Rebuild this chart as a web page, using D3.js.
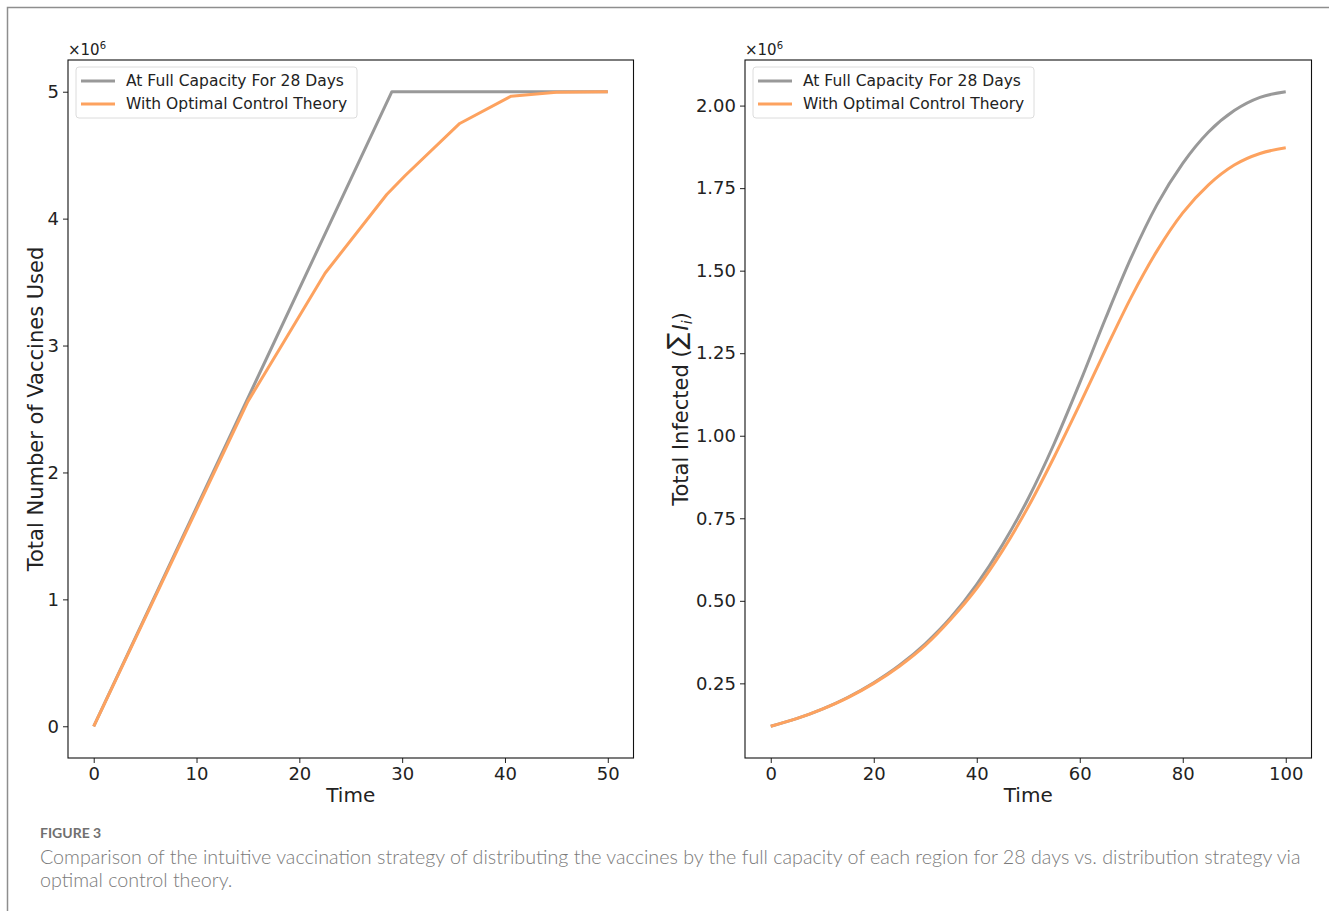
<!DOCTYPE html>
<html>
<head>
<meta charset="utf-8">
<script src="https://cdn.jsdelivr.net/npm/d3@7"></script>
<style>
  body { margin: 0; background: #fff; }
  svg { display: block; }
  .tick text { font-family: "DejaVu Sans", sans-serif; }
</style>
</head>
<body>
<svg id="fig" width="1329" height="911"></svg>
<script>
// ---- data ----
const seriesNames = ["At Full Capacity For 28 Days", "With Optimal Control Theory"];
const seriesColors = ["#999999", "#fda25f"];

// left panel: vaccines used (x10^6)
const vaccFullTime = [0, 29, 50];
const vaccFull = [0, 5, 5];
const vaccOptTime = [0, 15, 18.5, 22.5, 28.5, 30.3, 35.6, 40.6, 45, 50];
const vaccOpt = [0, 2.56, 3.03, 3.57, 4.19, 4.34, 4.75, 4.965, 4.995, 5.0];

// right panel: total infected (x10^6)
const infTime = [0, 5, 10, 15, 20, 25, 30, 35, 40, 45, 50, 55, 60, 65, 70, 75, 80, 85, 90, 95, 100];
const infFull = [0.12, 0.143, 0.172, 0.208, 0.252, 0.305, 0.37, 0.45, 0.55, 0.67, 0.81, 0.975, 1.16, 1.355, 1.54, 1.70, 1.825, 1.92, 1.985, 2.025, 2.042];
const infOpt = [0.12, 0.143, 0.172, 0.207, 0.25, 0.302, 0.365, 0.445, 0.538, 0.652, 0.785, 0.935, 1.095, 1.26, 1.42, 1.56, 1.675, 1.76, 1.82, 1.855, 1.872];

const leftXTicks = [0, 10, 20, 30, 40, 50];
const leftYTicks = [0, 1, 2, 3, 4, 5];
const rightXTicks = [0, 20, 40, 60, 80, 100];
const rightYTicks = [0.25, 0.5, 0.75, 1.0, 1.25, 1.5, 1.75, 2.0];

const captionHead = "FIGURE 3";
const captionLines = [
  "Comparison of the intuitive vaccination strategy of distributing the vaccines by the full capacity of each region for 28 days vs. distribution strategy via",
  "optimal control theory."
];

const svg = d3.select("#fig");
const FONT = "'DejaVu Sans', sans-serif";

// outer frame
svg.append("path")
    .attr("d", "M7.5,911V7.5H1329")
    .attr("fill", "none")
    .attr("stroke", "#8e8e8e")
    .attr("stroke-width", 1.5);

// matplotlib-like padded extent
function padded(vals) {
    const [lo, hi] = d3.extent(vals);
    const m = (hi - lo) * 0.05;
    return [lo - m, hi + m];
}

function panel(opts) {
    const { box, xDomain, yDomain, xTicks, yTicks, yFormat, series, yLabel } = opts;
    const x = d3.scaleLinear().domain(xDomain).range([box.x0, box.x1]);
    const y = d3.scaleLinear().domain(yDomain).range([box.y1, box.y0]);
    const g = svg.append("g");

    const xAxis = g.append("g")
        .attr("transform", `translate(0,${box.y1})`)
        .call(d3.axisBottom(x).tickValues(xTicks).tickSize(5).tickPadding(4).tickFormat(d3.format("d")));
    const yAxis = g.append("g")
        .attr("transform", `translate(${box.x0},0)`)
        .call(d3.axisLeft(y).tickValues(yTicks).tickSize(5).tickPadding(4).tickFormat(yFormat));
    [xAxis, yAxis].forEach(a => {
        a.select(".domain").remove();
        a.selectAll(".tick line").attr("stroke", "#222").attr("stroke-width", 1);
        a.selectAll(".tick text").attr("fill", "#222").style("font-size", "18px");
    });

    const line = d3.line()
        .x(d => x(d[0]))
        .y(d => y(d[1]))
        .curve(opts.curve);

    g.append("g").selectAll("path")
        .data(series)
        .join("path")
        .attr("fill", "none")
        .attr("stroke", (d, i) => seriesColors[i])
        .attr("stroke-width", 3)
        .attr("stroke-linejoin", "round")
        .attr("d", d => line(d));

    // axes frame
    g.append("rect")
        .attr("x", box.x0).attr("y", box.y0)
        .attr("width", box.x1 - box.x0).attr("height", box.y1 - box.y0)
        .attr("fill", "none").attr("stroke", "#111").attr("stroke-width", 1.1);

    // offset text
    const off = g.append("text")
        .attr("x", box.x0).attr("y", box.y0 - 5)
        .attr("font-family", FONT).attr("font-size", 15).attr("fill", "#222");
    off.append("tspan").text("×10");
    off.append("tspan").attr("font-size", 10).attr("dy", -6).text("6");

    // x label
    g.append("text")
        .attr("x", (box.x0 + box.x1) / 2).attr("y", 802)
        .attr("text-anchor", "middle")
        .attr("font-family", FONT).attr("font-size", 20).attr("fill", "#222")
        .text("Time");

    // y label
    const yl = g.append("text")
        .attr("transform", `translate(${opts.yLabelX},${(box.y0 + box.y1) / 2}) rotate(-90)`)
        .attr("text-anchor", "middle")
        .attr("font-family", FONT).attr("font-size", 21).attr("fill", "#222");
    yLabel(yl);

    // legend
    const lg = g.append("g").attr("transform", `translate(${box.x0 + 8},${box.y0 + 7})`);
    lg.append("rect")
        .attr("width", 281).attr("height", 51).attr("rx", 3)
        .attr("fill", "#fff").attr("fill-opacity", 0.85)
        .attr("stroke", "#dcdcdc");
    seriesNames.forEach((name, i) => {
        const ly = 14 + i * 23;
        lg.append("line")
            .attr("x1", 5).attr("x2", 39).attr("y1", ly).attr("y2", ly)
            .attr("stroke", seriesColors[i]).attr("stroke-width", 3);
        lg.append("text")
            .attr("x", 50).attr("y", ly).attr("dy", "0.35em")
            .attr("font-family", FONT).attr("font-size", 15.5).attr("fill", "#222")
            .text(name);
    });
}

panel({
    box: { x0: 68, x1: 633.5, y0: 60, y1: 758 },
    xDomain: padded(vaccFullTime.concat(vaccOptTime)),
    yDomain: padded(vaccFull.concat(vaccOpt)),
    xTicks: leftXTicks,
    yTicks: leftYTicks,
    yFormat: d3.format("d"),
    curve: d3.curveLinear,
    series: [
        vaccFullTime.map((t, i) => [t, vaccFull[i]]),
        vaccOptTime.map((t, i) => [t, vaccOpt[i]])
    ],
    yLabelX: 43,
    yLabel: t => t.text("Total Number of Vaccines Used")
});

panel({
    box: { x0: 745, x1: 1311.5, y0: 60, y1: 758 },
    xDomain: padded(infTime),
    yDomain: padded(infFull.concat(infOpt)),
    xTicks: rightXTicks,
    yTicks: rightYTicks,
    yFormat: d3.format(".2f"),
    curve: d3.curveMonotoneX,
    series: [
        infTime.map((t, i) => [t, infFull[i]]),
        infTime.map((t, i) => [t, infOpt[i]])
    ],
    yLabelX: 688,
    yLabel: t => {
        t.append("tspan").text("Total Infected (");
        t.append("tspan").attr("font-size", 25).attr("dy", -3).text("∑");
        t.append("tspan").attr("font-style", "italic").attr("dx", 2).attr("dy", 3).text("I");
        t.append("tspan").attr("font-style", "italic").attr("font-size", 14).attr("dy", 4).text("i");
        t.append("tspan").attr("dy", -4).text(")");
    }
});

// caption
svg.append("text")
    .attr("x", 40).attr("y", 838)
    .attr("font-family", "Lato, 'Open Sans', sans-serif")
    .attr("font-size", 14).attr("font-weight", 700).attr("fill", "#707070")
    .text(captionHead);
captionLines.forEach((s, i) => {
    svg.append("text")
        .attr("x", 40).attr("y", 864 + i * 23)
        .attr("font-family", "Lato, 'Open Sans', sans-serif")
        .attr("font-size", 19.7).attr("font-weight", 300).attr("fill", "#7a7a7a")
        .text(s);
});
</script>
</body>
</html>
